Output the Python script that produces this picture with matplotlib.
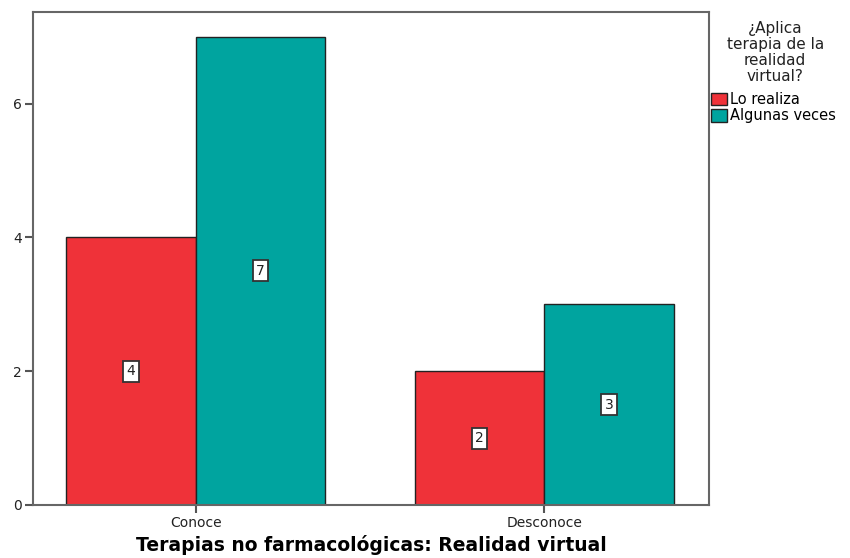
import matplotlib
matplotlib.use("Agg")
import matplotlib.pyplot as plt
import numpy as np

plt.rcParams['font.family'] = ['DejaVu Sans']

# ── Data ────────────────────────────────────────────
categories = ['Conoce', 'Desconoce']
series_names = ['Lo realiza', 'Algunas veces']
lo_realiza = [4, 2]
algunas_veces = [7, 3]
colors = ['#EF3239', '#00A49F']

# ── Figure ──────────────────────────────────────────
fig = plt.figure(figsize=(8.5, 5.58), dpi=100)
ax = fig.add_axes([0.0388, 0.095, 0.7955, 0.8835])

x = np.arange(len(categories))
width = 0.372

for i, (vals, name) in enumerate(zip([lo_realiza, algunas_veces], series_names)):
    offset = (i - 0.5) * width
    bars = ax.bar(x + offset, vals, width, color=colors[i], edgecolor='#222222',
                  linewidth=1.0, label=name)
    for b, v in zip(bars, vals):
        ax.text(b.get_x() + b.get_width() / 2, v / 2, f'{v}', ha='center', va='center',
                fontsize=10, color='#222222',
                bbox=dict(boxstyle='square,pad=0.25', facecolor='white',
                          edgecolor='#333333', linewidth=1.3))

ax.set_xlim(-0.467, 1.473)
ax.set_ylim(0, 7.37)
ax.set_yticks([0, 2, 4, 6])
ax.set_xticks(x)
ax.set_xticklabels(categories)
ax.tick_params(axis='both', labelsize=10, color='#555555', length=6, width=1.5,
               labelcolor='#222222', pad=2)

for s in ax.spines.values():
    s.set_color('#666666')
    s.set_linewidth(1.5)

ax.set_xlabel('Terapias no farmacológicas: Realidad virtual', fontsize=13.5,
              fontweight='bold', labelpad=3.5)

# Legend with centered multi-line title
fig.text(0.912, 0.963, '¿Aplica\nterapia de la\nrealidad\nvirtual?', ha='center', va='top',
         fontsize=11, color='#222222', linespacing=1.1)
leg = ax.legend(loc='upper left', bbox_to_anchor=(1.0, 0.841), frameon=False,
                fontsize=10.5, handlelength=1.1, handleheight=0.95, handletextpad=0.2,
                labelspacing=0.1, borderaxespad=0.1, borderpad=0.0)
for h in leg.legend_handles:
    h.set_edgecolor('#222222')
    h.set_linewidth(1.0)

fig.savefig('out.png', dpi=100)
